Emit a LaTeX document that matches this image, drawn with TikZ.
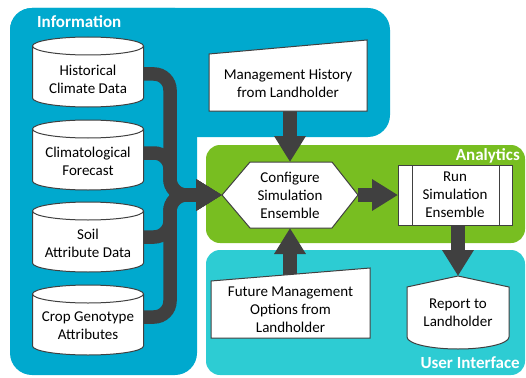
\documentclass[tikz,border=0pt]{standalone}
\usepackage{fontspec}
\setmainfont{Carlito}
\usetikzlibrary{arrows.meta}
\definecolor{infoblue}{HTML}{00A9CE}
\definecolor{anagreen}{HTML}{78BE21}
\definecolor{uiteal}{HTML}{2DCCD3}
\definecolor{flowgray}{HTML}{404040}
\pgfdeclarelayer{zones}
\pgfdeclarelayer{flows}
\pgfdeclarelayer{shapes}
\pgfsetlayers{zones,flows,shapes,main}
\newcommand\dbcylinder[2]{%
 \draw[shapeline] (#1-55.5,#2-26) -- (#1-55.5,#2+26) arc[start angle=180,end angle=360,x radius=55.5pt,y radius=9pt] -- (#1+55.5,#2-26) arc[start angle=0,end angle=180,x radius=55.5pt,y radius=9pt] -- cycle;
 \draw[shapeline, fill=none] (#1-55.5,#2-26) arc[start angle=180,end angle=360,x radius=55.5pt,y radius=9pt];
}
\begin{document}
\begin{tikzpicture}[x=1pt,y=-1pt,
 flowline/.style={draw=flowgray, line width=13.5pt, line cap=butt, -{Triangle[length=26pt,width=30pt]}},
 mergeline/.style={flowline, rounded corners=16pt},
 shapeline/.style={draw=flowgray, line width=1pt, fill=white},
 boxtxt/.style={align=center, font=\fontsize{15}{18}\selectfont, inner sep=0pt, outer sep=0pt, text=black},
 zonetitle/.style={text=white, font=\bfseries\fontsize{17}{20}\selectfont, inner sep=0pt},
]
\useasboundingbox (0,0) rectangle (526,377);

% text nodes
\node[boxtxt, minimum width=111pt] (c1) at (88,79) {Historical\\Climate Data};
\node[boxtxt, minimum width=111pt] (c2) at (88,161) {Climatological\\Forecast};
\node[boxtxt, minimum width=111pt] (c3) at (88,243) {Soil\\Attribute Data};
\node[boxtxt, minimum width=111pt] (c4) at (88,326) {Crop Genotype\\Attributes};
\node[boxtxt, minimum width=158pt] (mh) at (288,83) {Management History\\from Landholder};
\node[boxtxt, minimum width=136pt, minimum height=66pt] (hex) at (290,195) {Configure\\Simulation\\Ensemble};
\node[boxtxt, minimum width=114pt, minimum height=60pt] (run) at (455,195) {Run\\Simulation\\Ensemble};
\node[boxtxt, minimum width=102pt, minimum height=73pt] (rep) at (458,312.5) {Report to\\Landholder};
\node[boxtxt, minimum width=159pt] (fm) at (290.5,310) {Future Management\\Options from\\Landholder};
\coordinate (joint) at (170,195);

\node[zonetitle, anchor=west] (tinfo) at (37,22) {Information};
\node[zonetitle, anchor=east] (tana) at (520,156) {Analytics};
\node[zonetitle, anchor=east] (tui) at (520,363) {User Interface};

\begin{pgfonlayer}{zones}
 \fill[infoblue, rounded corners=22pt] (10,8) rectangle (390,137);
 \fill[infoblue, rounded corners=22pt] (10,8) rectangle (197,375);
 \fill[anagreen, rounded corners=14pt] (206,145) rectangle (525,243);
 \fill[uiteal, rounded corners=14pt] (206,250) rectangle (525,375);
\end{pgfonlayer}

\begin{pgfonlayer}{shapes}
 \dbcylinder{88}{72}
 \dbcylinder{88}{155}
 \dbcylinder{88}{237}
 \dbcylinder{88}{320}
 \draw[shapeline] (209,54) -- (367,40) -- (367,111) -- (209,111) -- cycle;
 \draw[shapeline] (222,195) -- (250,162) -- (332,162) -- (358,195) -- (332,228) -- (250,228) -- cycle;
 \draw[shapeline] (398,165) rectangle (512,225);
 \draw[shapeline] (412,165) -- (412,225) (499,165) -- (499,225);
 \draw[shapeline] (407,337) -- (407,287) -- (458,276) -- (509,287) -- (509,337)
   arc[start angle=0,end angle=-180,x radius=51pt,y radius=12pt] -- cycle;
 \draw[shapeline] (211,281) -- (370,268) -- (370,338) -- (211,338) -- cycle;
\end{pgfonlayer}

\begin{pgfonlayer}{flows}
 \draw[mergeline] ([yshift=5pt]c1.east) -| (joint) -- (hex.west);
 \draw[mergeline] ([yshift=8pt]c2.east) -| (joint) -- (hex.west);
 \draw[mergeline] ([yshift=6pt]c3.east) -| (joint) -- (hex.west);
 \draw[mergeline] ([yshift=9pt]c4.east) -| (joint) -- (hex.west);
 \draw[flowline] (mh.center -| hex.north) -- (hex.north);
 \draw[flowline] (fm.center -| hex.south) -- (hex.south);
 \draw[flowline] (hex.east) -- (run.west);
 \draw[flowline] (run.south -| rep.north) -- (rep.north);
\end{pgfonlayer}
\end{tikzpicture}
\end{document}
